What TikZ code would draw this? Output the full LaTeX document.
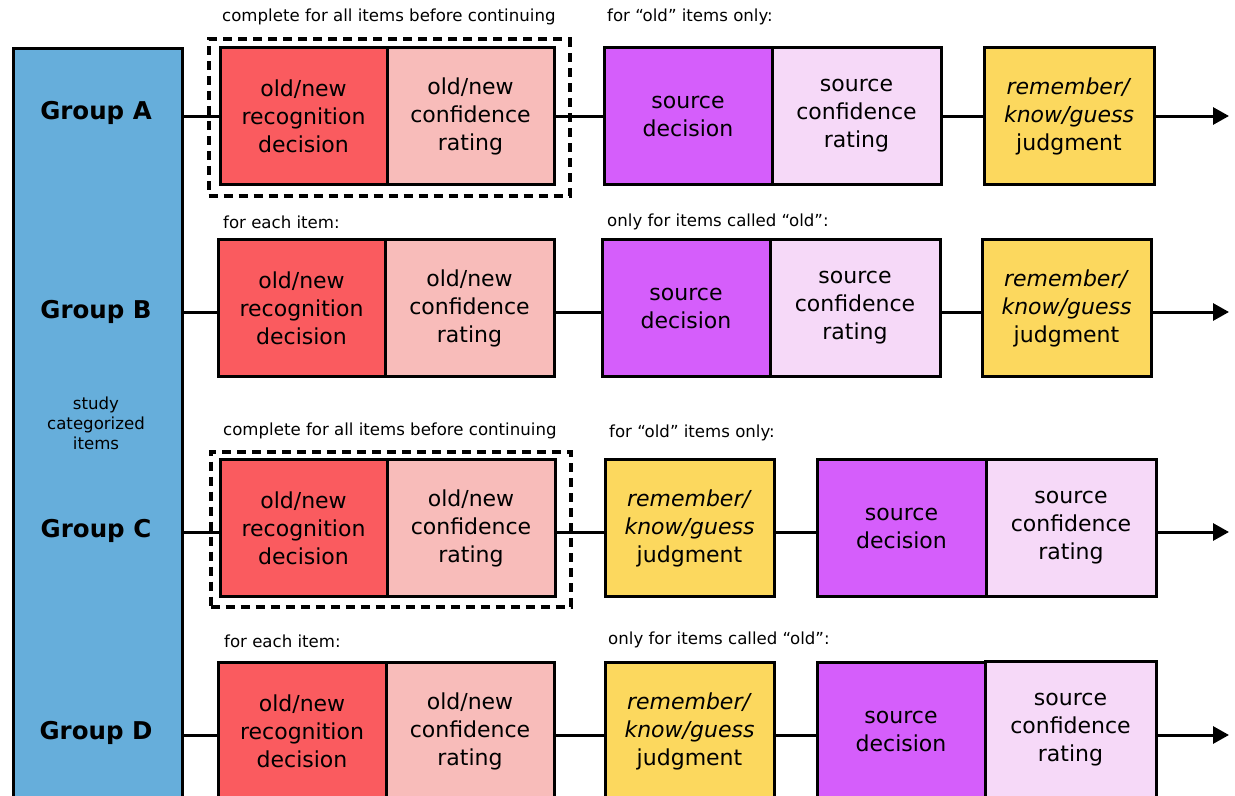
\documentclass[tikz,border=0pt]{standalone}
\usepackage{fontspec}
\setmainfont{DejaVu Sans}
\usetikzlibrary{arrows.meta}
\definecolor{cblue}{HTML}{66AEDB}
\definecolor{cred}{HTML}{FA5B5F}
\definecolor{cpink}{HTML}{F8BCBA}
\definecolor{cpurple}{HTML}{D55EFB}
\definecolor{clpurple}{HTML}{F6D9F8}
\definecolor{cyellow}{HTML}{FCD85E}
\begin{document}
\begin{tikzpicture}[x=1bp,y=-1bp,
  stagebox/.style={draw, line width=3bp, minimum height=137bp, align=center,
    font=\fontsize{22bp}{28bp}\selectfont, inner sep=0pt, anchor=west},
  redbox/.style={stagebox, fill=cred, text width=160bp},
  pinkbox/.style={stagebox, fill=cpink, text width=160bp},
  purplebox/.style={stagebox, fill=cpurple, text width=160bp},
  lpurplebox/.style={stagebox, fill=clpurple, text width=160bp},
  yellowbox/.style={stagebox, fill=cyellow, text width=160bp},
  dashbox/.style={draw, line width=4bp, dash pattern=on 9bp off 6bp, inner sep=0pt, anchor=north west},
  lab/.style={font=\fontsize{16.6bp}{20bp}\selectfont, inner sep=0pt, anchor=west},
  grp/.style={font=\fontsize{24.5bp}{28bp}\selectfont\bfseries, inner sep=0pt},
  conn/.style={line width=3bp},
  arr/.style={line width=3bp, -{Triangle[length=16bp,width=17bp]}}
]
\useasboundingbox (0,0) rectangle (1235,796);
\clip (0,0) rectangle (1235,796);
\fill[white] (0,0) rectangle (1235,796);

\newcommand{\rtxt}{old/new\\recognition\\decision}
\newcommand{\ctxt}{old/new\\confidence\\rating}
\newcommand{\stxt}{source\\decision}
\newcommand{\sctxt}{source\\confidence\\rating}
\newcommand{\jtxt}{\textit{remember/}\\\textit{know/guess}\\judgment}

% study box
\node[draw, fill=cblue, line width=3bp, minimum width=169bp, minimum height=800bp, anchor=north west, inner sep=0pt] (blue) at (11.5,47) {};
\node[grp] (gA) at (96,113) {Group A};
\node[grp] (gB) at (96,312) {Group B};
\node[grp] (gC) at (96,531) {Group C};
\node[grp] (gD) at (96,733) {Group D};
\node[font=\fontsize{16.6bp}{20bp}\selectfont, align=center, inner sep=0pt] (study) at (96,423) {study\\categorized\\items};

% row coordinates
\coordinate (yA) at (0,116);
\coordinate (yB) at (0,312);
\coordinate (yC) at (0,532);
\coordinate (yD) at (0,735);

% ---------- Group A ----------
\node[dashbox, minimum width=361bp, minimum height=156bp] (dA) at (206.5,37.5) {};
\node[lab] (lA1) at (222,17) {complete for all items before continuing};
\node[lab] (lA2) at (607,17) {for “old” items only:};
\node[redbox, minimum width=167bp] (rA) at (218.5,116) {\rtxt};
\node[pinkbox, minimum width=167bp] (pA) at (385.5,116) {\ctxt};
\node[purplebox, minimum width=168bp] (sA) at (602.5,116) {\stxt};
\node[lpurplebox, minimum width=169bp] (scA) at (770.5,116) {\sctxt};
\node[yellowbox, minimum width=170bp] (jA) at (982.5,116) {\jtxt};
\coordinate (eA) at (1229,116);
\draw[conn] (blue.east |- yA) -- (rA.west);
\draw[conn] (pA.east) -- (sA.west);
\draw[conn] (scA.east) -- (jA.west);
\draw[arr] (jA.east) -- (eA);

% ---------- Group B ----------
\node[lab] (lB1) at (223,222) {for each item:};
\node[lab] (lB2) at (607,222) {only for items called “old”:};
\node[redbox, minimum width=167bp] (rB) at (216.5,308) {\rtxt};
\node[pinkbox, minimum width=169bp] (pB) at (383.5,308) {\ctxt};
\node[purplebox, minimum width=168bp] (sB) at (600.5,308) {\stxt};
\node[lpurplebox, minimum width=170bp] (scB) at (768.5,308) {\sctxt};
\node[yellowbox, minimum width=169bp] (jB) at (980.5,308) {\jtxt};
\coordinate (eB) at (1229,312);
\draw[conn] (blue.east |- yB) -- (rB.west |- yB);
\draw[conn] (pB.east |- yB) -- (sB.west |- yB);
\draw[conn] (scB.east |- yB) -- (jB.west |- yB);
\draw[arr] (jB.east |- yB) -- (eB);

% ---------- Group C ----------
\node[dashbox, minimum width=360bp, minimum height=155bp] (dC) at (208.5,449.5) {};
\node[lab] (lC1) at (223,431) {complete for all items before continuing};
\node[lab] (lC2) at (609,433) {for “old” items only:};
\node[redbox, minimum width=167bp] (rC) at (218.5,528) {\rtxt};
\node[pinkbox, minimum width=168bp] (pC) at (385.5,528) {\ctxt};
\node[yellowbox, minimum width=169bp] (jC) at (603.5,528) {\jtxt};
\node[purplebox, minimum width=169bp] (sC) at (815.5,528) {\stxt};
\node[lpurplebox, minimum width=170bp] (scC) at (984.5,528) {\sctxt};
\coordinate (eC) at (1229,532);
\draw[conn] (blue.east |- yC) -- (rC.west |- yC);
\draw[conn] (pC.east |- yC) -- (jC.west |- yC);
\draw[conn] (jC.east |- yC) -- (sC.west |- yC);
\draw[arr] (scC.east |- yC) -- (eC);

% ---------- Group D ----------
\node[lab] (lD1) at (224,641) {for each item:};
\node[lab] (lD2) at (608,640) {only for items called “old”:};
\node[redbox, minimum width=168bp] (rD) at (216.5,731) {\rtxt};
\node[pinkbox, minimum width=168bp] (pD) at (384.5,731) {\ctxt};
\node[yellowbox, minimum width=169bp] (jD) at (603.5,731) {\jtxt};
\node[purplebox, minimum width=168bp] (sD) at (815.5,731) {\stxt};
\node[lpurplebox, minimum width=171bp] (scD) at (983.5,730) {\sctxt};
\coordinate (eD) at (1229,735);
\draw[conn] (blue.east |- yD) -- (rD.west |- yD);
\draw[conn] (pD.east |- yD) -- (jD.west |- yD);
\draw[conn] (jD.east |- yD) -- (sD.west |- yD);
\draw[arr] (scD.east |- yD) -- (eD);
\end{tikzpicture}
\end{document}
